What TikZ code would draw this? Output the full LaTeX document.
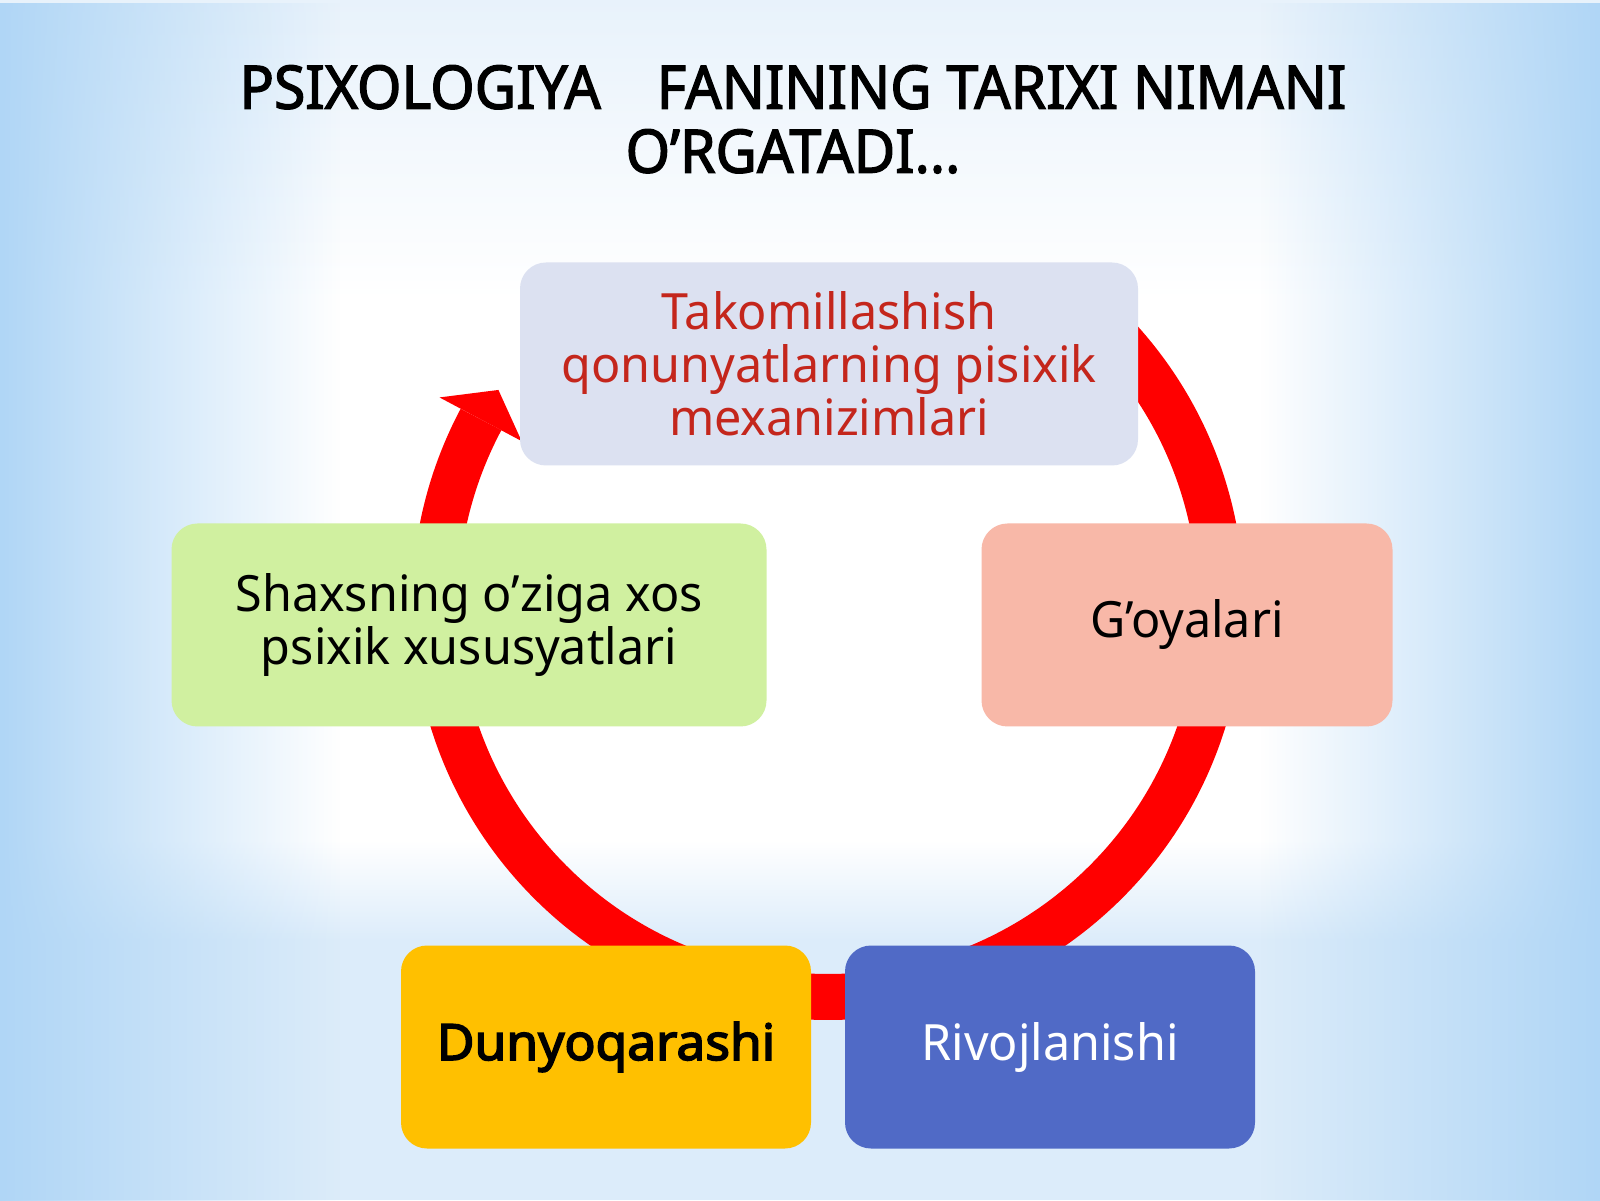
\documentclass[tikz,border=0pt]{standalone}
\usepackage{fontspec}
\setmainfont{Noto Sans}[FakeStretch=0.97]
\newfontfamily\titlefont{Noto Sans}[FakeStretch=0.95, FakeBold=2.2]
\newfontfamily\boxbold{Noto Sans}[FakeStretch=1.03, FakeBold=3.2]
\usetikzlibrary{fadings}
\definecolor{bgblue}{RGB}{176,214,246}
\definecolor{bgtop}{RGB}{232,242,251}
\definecolor{bglow}{RGB}{220,236,250}
\definecolor{ringred}{RGB}{255,0,0}
\definecolor{topfill}{RGB}{220,225,241}
\definecolor{topred}{RGB}{196,38,28}
\definecolor{greenfill}{RGB}{208,240,160}
\definecolor{salmonfill}{RGB}{248,184,168}
\definecolor{yellowfill}{RGB}{255,192,0}
\definecolor{bluefill}{RGB}{80,106,198}

\begin{document}
\begin{tikzpicture}[x=1pt, y=1pt,
    box/.style={rounded corners=26pt, minimum height=203pt, inner sep=0pt, align=center,
      font=\fontsize{50}{53}\selectfont},
    ring/.style={draw=ringred, line width=46pt},
  ]
  % background
  \fill[white] (0,0) rectangle (1600,1200);
  \shade[top color=bgtop, bottom color=white] (0,1200) rectangle (1600,900);
  \shade[top color=white, bottom color=bglow] (0,360) rectangle (1600,260);
  \fill[bglow] (0,0) rectangle (1600,260);
  \fill[bgblue, path fading=east] (0,0) rectangle (340,1200);
  \fill[bgblue, path fading=west] (1260,0) rectangle (1600,1200);
  \useasboundingbox (0,0) rectangle (1600,1200);

  \node[anchor=north, inner sep=0pt, align=center, font=\fontsize{60}{64}\titlefont] (title)
    at (793,1135) {PSIXOLOGIYA\hspace{56pt}FANINING TARIXI NIMANI\\O’RGATADI...};

  % the cycle ring with its arrow head
  \coordinate (ring) at (828,596);
  \draw[ring] ([shift={(42:393)}]ring) arc[start angle=42, end angle=-208, radius=393];
  \fill[ringred] ([shift={(152:440)}]ring) -- ([shift={(147:393)}]ring) -- ([shift={(152:347)}]ring) -- cycle;

  \node[box, fill=topfill, text=topred, minimum width=618pt] (takomil) at (829,836)
    {Takomillashish\\qonunyatlarning pisixik\\mexanizimlari};
  \node[box, fill=greenfill, minimum width=595pt] (shaxs) at (469,575)
    {Shaxsning o’ziga xos\\psixik xususyatlari};
  \node[box, fill=salmonfill, minimum width=411pt] (goya) at (1187,575) {G’oyalari};
  \node[box, fill=yellowfill, minimum width=410pt, font=\fontsize{50}{53}\boxbold] (dunyo)
    at (606,153) {Dunyoqarashi};
  \node[box, fill=bluefill, text=white, minimum width=410pt] (rivoj) at (1050,153) {Rivojlanishi};
\end{tikzpicture}
\end{document}
